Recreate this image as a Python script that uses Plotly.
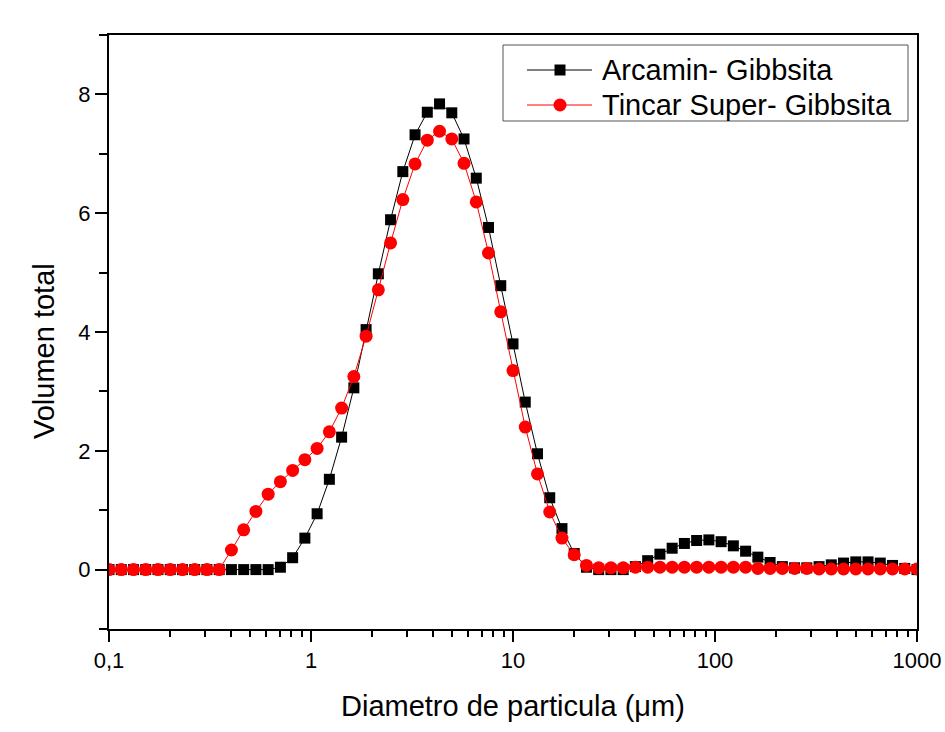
import plotly.graph_objects as go

# Particle diameter bins (µm), log-spaced from 0.1 to 1000
diametro = [
    0.1, 0.11498, 0.13219, 0.15199, 0.17475, 0.20092, 0.23101, 0.26561, 0.30539, 0.35112,
    0.40370, 0.46416, 0.53367, 0.61359, 0.70548, 0.81113, 0.93260, 1.0723, 1.2328, 1.4175,
    1.6298, 1.8738, 2.1544, 2.4771, 2.8480, 3.2745, 3.7649, 4.3288, 4.9770, 5.7224,
    6.5793, 7.5646, 8.6975, 10.0, 11.498, 13.219, 15.199, 17.475, 20.092, 23.101,
    26.561, 30.539, 35.112, 40.370, 46.416, 53.367, 61.359, 70.548, 81.113, 93.260,
    107.23, 123.28, 141.75, 162.98, 187.38, 215.44, 247.71, 284.80, 327.45, 376.49,
    432.88, 497.70, 572.24, 657.93, 756.46, 869.75, 1000.0,
]

# Volume distribution, Arcamin gibbsite
arcamin = [
    0, 0, 0, 0, 0, 0, 0, 0, 0, 0,
    0, 0, 0, 0, 0.04, 0.20, 0.53, 0.94, 1.52, 2.23,
    3.06, 4.04, 4.98, 5.89, 6.70, 7.32, 7.70, 7.84, 7.69, 7.25,
    6.59, 5.76, 4.78, 3.80, 2.82, 1.95, 1.21, 0.69, 0.27, 0.04,
    0.0, 0.0, 0.0, 0.05, 0.15, 0.26, 0.36, 0.44, 0.49, 0.50,
    0.47, 0.40, 0.31, 0.21, 0.12, 0.05, 0.03, 0.03, 0.05, 0.08,
    0.11, 0.13, 0.13, 0.11, 0.07, 0.02, 0.0,
]

# Volume distribution, Tincar Super gibbsite
tincar = [
    0, 0, 0, 0, 0, 0, 0, 0, 0, 0,
    0.33, 0.67, 0.98, 1.27, 1.48, 1.67, 1.85, 2.04, 2.32, 2.72,
    3.25, 3.93, 4.71, 5.50, 6.23, 6.83, 7.23, 7.38, 7.25, 6.84,
    6.19, 5.33, 4.34, 3.35, 2.40, 1.61, 0.97, 0.53, 0.25, 0.07,
    0.03, 0.03, 0.03, 0.04, 0.04, 0.04, 0.04, 0.04, 0.04, 0.04,
    0.04, 0.04, 0.04, 0.02, 0.02, 0.02, 0.02, 0.02, 0.01, 0.01,
    0.01, 0.01, 0.01, 0.01, 0.01, 0.01, 0.01,
]

series_names = ["Arcamin- Gibbsita", "Tincar Super- Gibbsita"]
series_colors = ["#000000", "#ff0000"]

x_tickvals = [0.1, 1, 10, 100, 1000]
x_ticktext = ["0,1", "1", "10", "100", "1000"]
y_tickvals = [0, 2, 4, 6, 8]
y_ticktext = ["0", "2", "4", "6", "8"]

FONT = "Liberation Sans, Arial, sans-serif"

# Page and plot-area geometry (pixels)
W, H = 945, 732
ML, MR, MT, MB = 109, 28, 35, 103
PW, PH = W - ML - MR, H - MT - MB


def px(x):
    return (x - ML) / PW


def py(y):
    return (H - MB - y) / PH


fig = go.Figure()
fig.add_trace(go.Scatter(
    x=diametro, y=arcamin, mode="lines+markers", name=series_names[0],
    line=dict(color=series_colors[0], width=1),
    marker=dict(symbol="square", size=11, color=series_colors[0]),
))
fig.add_trace(go.Scatter(
    x=diametro, y=tincar, mode="lines+markers", name=series_names[1],
    line=dict(color=series_colors[1], width=1),
    marker=dict(symbol="circle", size=13, color=series_colors[1]),
))

minor_x = [m * d for d in (0.1, 1, 10, 100) for m in range(2, 10)]

fig.update_xaxes(
    type="log", range=[-1, 3], automargin=False,
    tickvals=x_tickvals, ticktext=x_ticktext,
    ticks="outside", ticklen=11, tickwidth=2, tickcolor="#000",
    minor=dict(tickvals=minor_x, ticks="outside", ticklen=6, tickwidth=2, tickcolor="#000"),
    showline=True, linecolor="#000", linewidth=2, mirror=True,
    showgrid=False, zeroline=False,
    tickfont=dict(family=FONT, size=22, color="#000"),
)
fig.update_yaxes(
    range=[-1, 9], automargin=False,
    tickvals=y_tickvals, ticktext=y_ticktext,
    ticks="outside", ticklen=12, tickwidth=2, tickcolor="#000",
    minor=dict(tickvals=[-1, 1, 3, 5, 7, 9], ticks="outside", ticklen=8, tickwidth=2,
               tickcolor="#000", showgrid=False),
    showline=True, linecolor="#000", linewidth=2, mirror=True,
    showgrid=False, zeroline=False,
    tickfont=dict(family=FONT, size=22, color="#000"),
)

# Legend box drawn by hand so the sample lines and spacing can be set freely
shapes = [
    dict(type="rect", xref="paper", yref="paper",
         x0=px(503), x1=px(908), y0=py(121), y1=py(45),
         line=dict(color="#555555", width=1), fillcolor="rgba(255,255,255,0)"),
]
annotations = []
rows = [70, 105]
for k, (name, color, yrow) in enumerate(zip(series_names, series_colors, rows)):
    shapes.append(dict(type="line", xref="paper", yref="paper",
                       x0=px(527), x1=px(592), y0=py(yrow), y1=py(yrow),
                       line=dict(color=color, width=1)))
    if k == 0:
        half = 5.5
        shapes.append(dict(type="rect", xref="paper", yref="paper",
                           x0=px(560 - half), x1=px(560 + half),
                           y0=py(yrow + half), y1=py(yrow - half),
                           line=dict(width=0), fillcolor=color))
    else:
        half = 6.5
        shapes.append(dict(type="circle", xref="paper", yref="paper",
                           x0=px(560 - half), x1=px(560 + half),
                           y0=py(yrow + half), y1=py(yrow - half),
                           line=dict(width=0), fillcolor=color))
    annotations.append(dict(text=name, xref="paper", yref="paper",
                            x=px(600), y=py(yrow), xanchor="left", yanchor="middle",
                            showarrow=False,
                            font=dict(family=FONT, size=29, color="#000")))

annotations += [
    dict(text="Volumen total", textangle=-90, xref="paper", yref="paper",
         x=px(44), y=py(351), xanchor="center", yanchor="middle", showarrow=False,
         font=dict(family=FONT, size=29, color="#000")),
    dict(text="Diametro de particula (\u03bcm)", xref="paper", yref="paper",
         x=px(513), y=py(706), xanchor="center", yanchor="middle", showarrow=False,
         font=dict(family=FONT, size=29, color="#000")),
]

fig.update_layout(
    width=W, height=H,
    margin=dict(l=ML, r=MR, t=MT, b=MB),
    paper_bgcolor="#ffffff", plot_bgcolor="#ffffff",
    font=dict(family=FONT, color="#000"),
    showlegend=False,
    shapes=shapes,
    annotations=annotations,
)

fig.write_html("out.html")
